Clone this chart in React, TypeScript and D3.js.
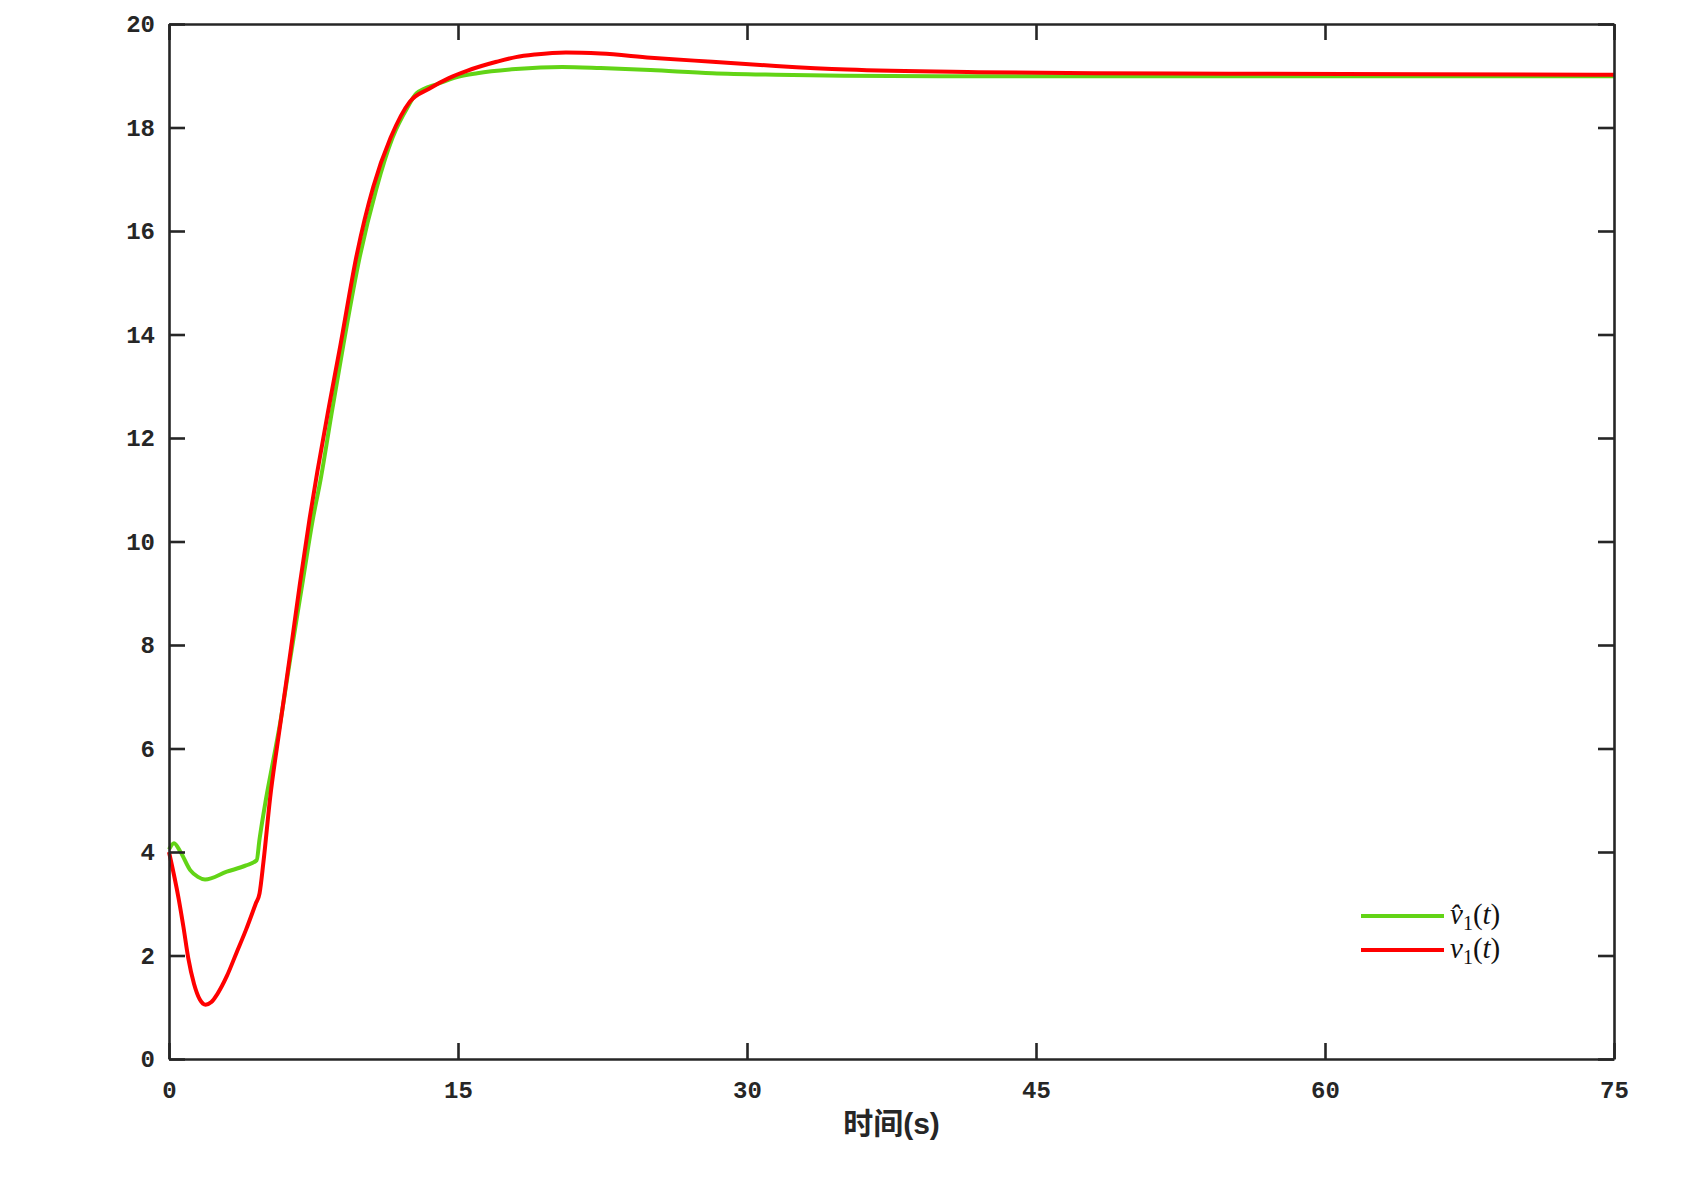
import * as d3 from 'd3';
import React, { useEffect, useRef } from 'react';

// time (s) and values
const estT = [0, 0.26, 0.6, 1.1, 1.5, 1.87, 3.0, 4.0, 4.55, 4.7, 5.0, 5.4, 5.75, 6.3, 6.95, 7.45, 7.87, 8.45, 9.05, 9.9, 10.75, 11.6, 12.4, 12.85, 14, 15, 16, 18, 20.4, 22.4, 25, 28.2, 31.5, 35, 42, 50, 60, 75];
const estV = [4.05, 4.17, 4.0, 3.65, 3.52, 3.47, 3.62, 3.74, 3.84, 4.25, 4.95, 5.75, 6.45, 7.75, 9.25, 10.4, 11.2, 12.5, 13.8, 15.5, 16.8, 17.8, 18.4, 18.66, 18.85, 18.98, 19.05, 19.13, 19.17, 19.15, 19.11, 19.05, 19.02, 19.0, 18.99, 18.99, 18.99, 18.99];

const realT = [0, 0.5, 0.75, 1.0, 1.3, 1.6, 1.9, 2.2, 2.5, 3.0, 3.5, 4.0, 4.5, 4.7, 4.9, 5.25, 5.75, 6.3, 6.8, 7.3, 7.7, 8.3, 8.9, 9.75, 10.6, 11.5, 12.5, 13.5, 14.5, 15.5, 17, 18, 19, 20.6, 22.4, 25, 28.2, 31.5, 35.2, 42, 48, 55, 65, 75];
const realV = [4.0, 3.1, 2.55, 1.95, 1.45, 1.15, 1.05, 1.1, 1.25, 1.6, 2.05, 2.5, 3.0, 3.2, 3.8, 5.05, 6.4, 7.85, 9.2, 10.45, 11.35, 12.6, 13.8, 15.55, 16.85, 17.8, 18.5, 18.75, 18.95, 19.1, 19.27, 19.36, 19.41, 19.45, 19.43, 19.35, 19.27, 19.19, 19.12, 19.07, 19.05, 19.04, 19.03, 19.02];

const xTicks = [0, 15, 30, 45, 60, 75];
const yTicks = [0, 2, 4, 6, 8, 10, 12, 14, 16, 18, 20];

const GREEN = '#62d416';
const RED = '#ff0000';
const AXIS = '#262626';

export default function App() {
  const svgRef = useRef<SVGSVGElement>(null);

  useEffect(() => {
    if (!svgRef.current) return;
    const svg = d3.select(svgRef.current);
    svg.selectAll('*').remove();

    const left = 169, right = 1614, top = 24, bottom = 1059;

    const x = d3.scaleLinear().domain([0, 75]).range([left, right]);
    const y = d3.scaleLinear().domain([0, 20]).range([bottom, top]);

    const line = d3
      .line<[number, number]>()
      .x(d => x(d[0]))
      .y(d => y(d[1]))
      .curve(d3.curveMonotoneX);

    const est = estT.map((t, i) => [t, estV[i]] as [number, number]);
    const real = realT.map((t, i) => [t, realV[i]] as [number, number]);

    svg.append('path').datum(est)
      .attr('d', line)
      .attr('fill', 'none')
      .attr('stroke', GREEN)
      .attr('stroke-width', 4)
      .attr('stroke-linejoin', 'round');

    svg.append('path').datum(real)
      .attr('d', line)
      .attr('fill', 'none')
      .attr('stroke', RED)
      .attr('stroke-width', 4)
      .attr('stroke-linejoin', 'round');

    const styleAxis = (g: any) => {
      g.select('.domain').attr('stroke', AXIS).attr('stroke-width', 2.6);
      g.selectAll('.tick line').attr('stroke', AXIS).attr('stroke-width', 2.6);
      g.selectAll('.tick text')
        .attr('fill', AXIS)
        .style('font-family', '"Liberation Mono", monospace')
        .style('font-weight', 'bold')
        .style('font-size', '24px');
    };

    svg.append('g')
      .attr('transform', `translate(0,${bottom})`)
      .call(d3.axisBottom(x).tickValues(xTicks).tickSizeInner(-16).tickSizeOuter(0).tickPadding(22))
      .call(styleAxis);

    svg.append('g')
      .attr('transform', `translate(0,${top})`)
      .call(d3.axisTop(x).tickValues(xTicks).tickSizeInner(-16).tickSizeOuter(0).tickFormat(() => ''))
      .call(styleAxis);

    svg.append('g')
      .attr('transform', `translate(${left},0)`)
      .call(d3.axisLeft(y).tickValues(yTicks).tickSizeInner(-16).tickSizeOuter(0).tickPadding(14))
      .call(styleAxis);

    svg.append('g')
      .attr('transform', `translate(${right},0)`)
      .call(d3.axisRight(y).tickValues(yTicks).tickSizeInner(-16).tickSizeOuter(0).tickFormat(() => ''))
      .call(styleAxis);

    // x label
    const xl = svg.append('text')
      .attr('x', (left + right) / 2)
      .attr('y', 1134)
      .attr('text-anchor', 'middle')
      .attr('fill', AXIS)
      .style('font-size', '30px')
      .style('font-weight', 'bold');
    xl.append('tspan').style('font-family', '"Noto Sans CJK SC", sans-serif').text('时间');
    xl.append('tspan').style('font-family', '"Liberation Sans", Arial, sans-serif').text('(s)');

    // legend
    const legend = [
      { color: GREEN, hat: true, yy: 916 },
      { color: RED, hat: false, yy: 950 },
    ];
    legend.forEach(l => {
      svg.append('line')
        .attr('x1', 1361).attr('x2', 1444)
        .attr('y1', l.yy).attr('y2', l.yy)
        .attr('stroke', l.color)
        .attr('stroke-width', 4);
      const t = svg.append('text')
        .attr('x', 1450)
        .attr('y', l.yy + 8)
        .attr('fill', '#111')
        .style('font-family', '"Liberation Serif", "DejaVu Serif", serif')
        .style('font-size', '29px');
      t.append('tspan').style('font-style', 'italic').text(l.hat ? 'v\u0302' : 'v');
      t.append('tspan').attr('dy', 6).style('font-size', '20px').text('1');
      t.append('tspan').attr('dy', -6).text('(');
      t.append('tspan').style('font-style', 'italic').text('t');
      t.append('tspan').text(')');
    });
  }, []);

  return (
    <svg
      ref={svgRef}
      width={1700}
      height={1178}
      style={{ position: 'absolute', left: 0, top: 0, background: '#fff' }}
    />
  );
}
